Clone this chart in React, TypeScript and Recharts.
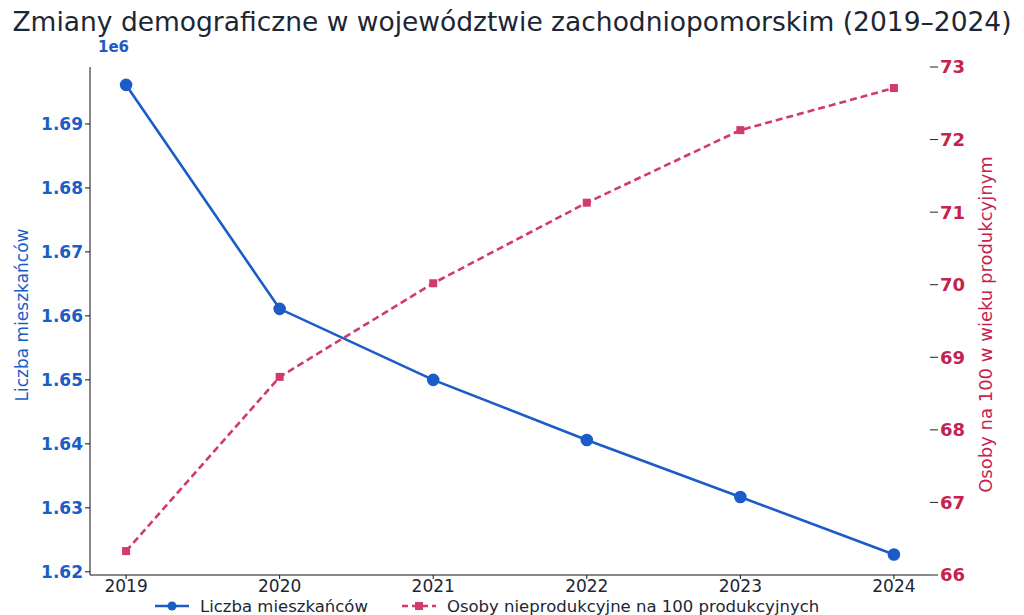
import { LineChart, Line, XAxis, YAxis } from 'recharts';

const lata = [2019, 2020, 2021, 2022, 2023, 2024];
const ludnosc = [1696100, 1661100, 1650000, 1640600, 1631700, 1622700];
const obciazenie = [66.33, 68.73, 70.02, 71.13, 72.13, 72.71];
const lewyTicks = [1620000, 1630000, 1640000, 1650000, 1660000, 1670000, 1680000, 1690000];
const prawyTicks = [66, 67, 68, 69, 70, 71, 72, 73];

const BLUE = '#1b5cc8';
const RED = '#d23a68';
const RED_TXT = '#c4234f';
const FONT = '"DejaVu Sans", sans-serif';

const data = lata.map((rok, i) => ({
  rok,
  ludnosc: ludnosc[i],
  obciazenie: obciazenie[i],
}));

const SquareDot = (props: any) => {
  const { cx, cy } = props;
  if (cx == null || cy == null) return null;
  return <rect x={cx - 4} y={cy - 4} width={8} height={8} fill={RED} />;
};

export default function App() {
  return (
    <div style={{ position: 'relative', width: 1024, height: 615, background: '#fff', fontFamily: FONT, overflow: 'hidden' }}>
      <style>{`body{margin:0}`}</style>
      <div
        style={{
          position: 'absolute',
          top: 6,
          left: 0,
          width: 1024,
          textAlign: 'center',
          fontSize: 26.5,
          color: '#1d2633',
          whiteSpace: 'nowrap',
        }}
      >
        Zmiany demograficzne w województwie zachodniopomorskim (2019–2024)
      </div>
      <div style={{ position: 'absolute', top: 38, left: 98, fontSize: 15, fontWeight: 'bold', color: BLUE }}>
        1e6
      </div>
      <LineChart
        width={1024}
        height={615}
        data={data}
        margin={{ top: 67, right: 0, bottom: 10, left: 0 }}
      >
        <XAxis
          dataKey="rok"
          type="number"
          domain={[2018.765, 2024.235]}
          ticks={lata}
          allowDataOverflow
          height={30}
          stroke="#111"
          tickSize={4}
          tickMargin={1}
          tick={{ fill: '#1d2633', fontSize: 17, fontFamily: FONT }}
        />
        <YAxis
          yAxisId="l"
          width={90}
          domain={[1619500, 1698900]}
          ticks={lewyTicks}
          allowDataOverflow
          stroke="#111"
          tickSize={5}
          tickFormatter={(v: number) => (v / 1e6).toFixed(2)}
          tick={{ fill: BLUE, fontSize: 17, fontWeight: 'bold', fontFamily: FONT }}
        />
        <YAxis
          yAxisId="r"
          orientation="right"
          width={94}
          domain={[66, 73]}
          ticks={prawyTicks}
          allowDataOverflow
          axisLine={false}
          tickLine={{ stroke: '#222' }}
          tickSize={8}
          tick={{ fill: RED_TXT, fontSize: 18, fontWeight: 'bold', fontFamily: FONT }}
        />
        <Line
          yAxisId="l"
          dataKey="ludnosc"
          stroke={BLUE}
          strokeWidth={2.6}
          dot={{ r: 5, fill: BLUE, stroke: BLUE }}
          isAnimationActive={false}
        />
        <Line
          yAxisId="r"
          dataKey="obciazenie"
          stroke={RED}
          strokeWidth={2.6}
          strokeDasharray="7 4"
          dot={<SquareDot />}
          isAnimationActive={false}
        />
      </LineChart>
      <div
        style={{
          position: 'absolute',
          left: -78,
          top: 305,
          width: 200,
          textAlign: 'center',
          transform: 'rotate(-90deg)',
          fontSize: 17,
          color: BLUE,
          whiteSpace: 'nowrap',
        }}
      >
        Liczba mieszkańców
      </div>
      <div
        style={{
          position: 'absolute',
          left: 800,
          top: 314,
          width: 370,
          textAlign: 'center',
          transform: 'rotate(-90deg)',
          fontSize: 18,
          color: RED_TXT,
          whiteSpace: 'nowrap',
        }}
      >
        Osoby na 100 w wieku produkcyjnym
      </div>
      <div
        style={{
          position: 'absolute',
          left: 150,
          top: 597,
          width: 700,
          height: 18,
          background: '#fff',
          display: 'flex',
          alignItems: 'center',
          fontSize: 16.5,
          color: '#1d2633',
          whiteSpace: 'nowrap',
        }}
      >
        <svg width={40} height={14} style={{ marginLeft: 3 }}>
          <line x1={2} y1={7} x2={36} y2={7} stroke={BLUE} strokeWidth={2.5} />
          <circle cx={19} cy={7} r={4.5} fill={BLUE} />
        </svg>
        <span style={{ marginLeft: 7 }}>Liczba mieszkańców</span>
        <svg width={40} height={14} style={{ marginLeft: 32 }}>
          <line x1={2} y1={7} x2={36} y2={7} stroke={RED} strokeWidth={2.5} strokeDasharray="6 4" />
          <rect x={15} y={3} width={8} height={8} fill={RED} />
        </svg>
        <span style={{ marginLeft: 7 }}>Osoby nieprodukcyjne na 100 produkcyjnych</span>
      </div>
    </div>
  );
}
